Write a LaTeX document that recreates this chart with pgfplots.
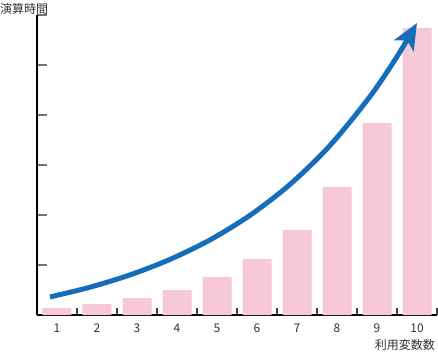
\documentclass[border=0pt]{standalone}
\usepackage{fontspec}
\setmainfont{Noto Sans CJK JP}
\usepackage{pgfplots}
\pgfplotsset{compat=1.18}
\usetikzlibrary{arrows.meta}
\definecolor{barpink}{RGB}{247,201,216}
\definecolor{arrowblue}{RGB}{22,110,186}
\begin{document}
\fontsize{12bp}{14bp}\selectfont
\begin{tikzpicture}
\begin{axis}[
  scale only axis,
  width=400bp, height=300bp,
  xmin=0.5, xmax=10.5,
  ymin=0, ymax=300,
  axis x line*=bottom,
  axis y line*=left,
  axis line style={black, line width=1.3bp},
  xtick={1,...,10},
  xticklabels={1,2,3,4,5,6,7,8,9,10},
  minor xtick={1.5,2.5,...,10.5},
  major x tick style={draw=none},
  minor tick length=7bp,
  major tick length=10bp,
  tick align=inside,
  xtick pos=bottom, ytick pos=left,
  minor x tick style={draw=black!75, line width=1.3bp},
  ytick={50,100,150,200,250,300},
  yticklabels={},
  ytick style={draw=black!55, line width=1.3bp},
  xticklabel style={anchor=base, yshift=-17bp, font=\fontsize{12bp}{14bp}\selectfont, text=black!80},
  clip=false,
]
\addplot[ybar, bar width=29bp, fill=barpink, draw=none] coordinates {
  (1,7) (2,11) (3,17) (4,25) (5,38) (6,56) (7,85) (8,128) (9,192) (10,287)
};
\addplot[smooth, line width=5bp, color=arrowblue, line cap=butt,
  -{Stealth[length=26bp, width=22bp, inset=6bp]}] coordinates {
  (0.825,18) (1.825,27.8) (2.825,40.1) (3.825,55.6) (4.825,75.1) (5.825,99.7)
  (6.825,130.6) (7.825,169.5) (8.825,218.5) (9.5,258.4) (10.0,292)
};
\node[anchor=west, inner sep=0pt, text=black!80] at (axis description cs:-0.0925,1.02) {演算時間};
\node[anchor=east, inner sep=0pt, text=black!80] at (axis description cs:0.995,-0.1) {利用変数数};
\end{axis}
\pgfresetboundingbox
\path[use as bounding box] (-37bp,-39bp) rectangle (401bp,315bp);
\end{tikzpicture}
\end{document}
